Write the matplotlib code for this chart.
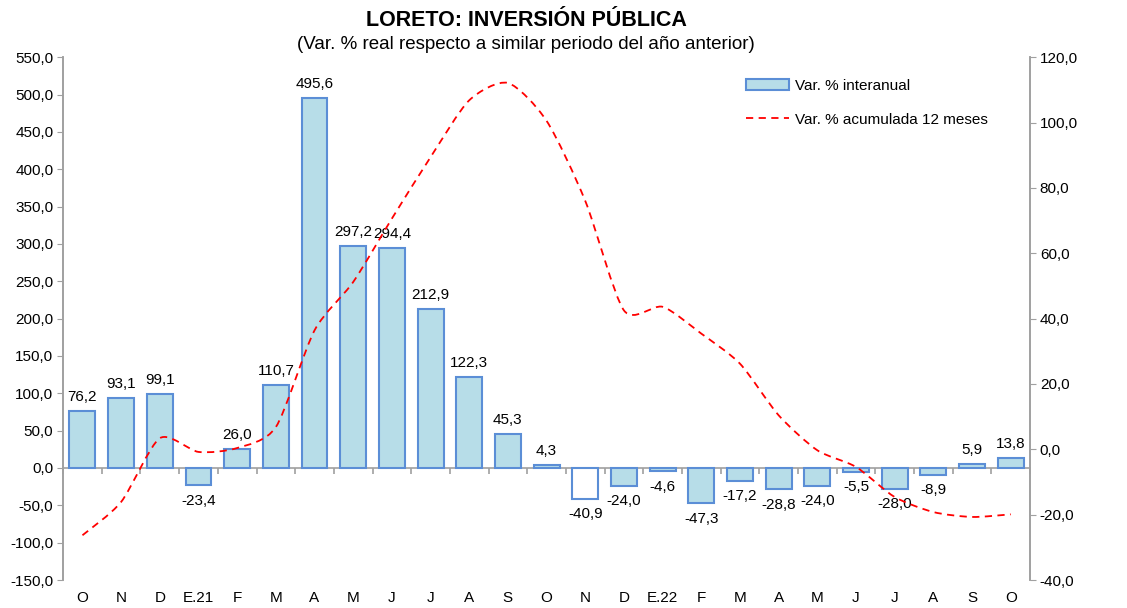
import numpy as np
import matplotlib.pyplot as plt
from matplotlib.path import Path
from matplotlib.patches import PathPatch
from matplotlib.lines import Line2D
from matplotlib.ticker import FuncFormatter, MultipleLocator

plt.rcParams['font.family'] = ['Liberation Sans', 'DejaVu Sans']

months = ["O", "N", "D", "E.21", "F", "M", "A", "M", "J", "J", "A", "S",
          "O", "N", "D", "E.22", "F", "M", "A", "M", "J", "J", "A", "S", "O"]
var_interanual = [76.2, 93.1, 99.1, -23.4, 26.0, 110.7, 495.6, 297.2, 294.4, 212.9, 122.3, 45.3,
                  4.3, -40.9, -24.0, -4.6, -47.3, -17.2, -28.8, -24.0, -5.5, -28.0, -8.9, 5.9, 13.8]
var_acum_12m = [-26.3, -16.1, 3.4, -0.8, 0.4, 6.8, 36.4, 51.2, 70.6, 89.4, 106.8, 112.1,
                100.5, 76.0, 42.5, 43.6, 35.4, 26.2, 10.4, -0.3, -5.4, -14.6, -19.2, -20.7, -19.9]


def coma(v, pos=None):
    return f"{v:.1f}".replace(".", ",")


def smooth_path(xs, ys, k=8):
    # Excel-like smoothed line: bezier curves through every point
    pts = np.column_stack([xs, ys]).astype(float)
    n = len(pts)
    verts = [pts[0]]
    codes = [Path.MOVETO]
    for i in range(n - 1):
        p0 = pts[max(i - 1, 0)]
        p1 = pts[i]
        p2 = pts[i + 1]
        p3 = pts[min(i + 2, n - 1)]
        c1 = p1 + (p2 - p0) / k
        c2 = p2 - (p3 - p1) / k
        verts += [c1, c2, p2]
        codes += [Path.CURVE4] * 3
    return Path(verts, codes)


fig = plt.figure(figsize=(11.27, 6.08), dpi=100)
ax = fig.add_axes([0.056, 0.046, 0.858, 0.860])
ax2 = ax.twinx()

x = np.arange(len(months))
fill = "#B7DDE8"
edge = "#5B8ED6"
facecolors = [fill] * len(months)
facecolors[13] = "white"  # the one bar Excel drew empty

bars = ax.bar(x, var_interanual, width=0.67, color=facecolors, edgecolor=edge,
              linewidth=1.5, zorder=2)
for xi, v in zip(x, var_interanual):
    if v >= 0:
        ax.annotate(coma(v), (xi, v), xytext=(0, 5), textcoords="offset points",
                    ha="center", va="bottom", fontsize=11)
    else:
        ax.annotate(coma(v), (xi, v), xytext=(0, -6), textcoords="offset points",
                    ha="center", va="top", fontsize=11)

red_style = dict(color="red", linestyle=(0, (4, 3)), linewidth=1.3)
ax2.add_patch(PathPatch(smooth_path(x, var_acum_12m), facecolor="none",
                        edgecolor="red", linestyle=(0, (4, 3)), linewidth=1.3, zorder=3))
line = Line2D([], [], **red_style)

ax.set_xlim(-0.5, len(months) - 0.5)
ax.set_ylim(-150, 550)
ax.yaxis.set_major_locator(MultipleLocator(50))
ax.yaxis.set_major_formatter(FuncFormatter(coma))
ax2.set_ylim(-40, 120)
ax2.yaxis.set_major_locator(MultipleLocator(20))
ax2.yaxis.set_major_formatter(FuncFormatter(coma))

ax.set_xticks(x)
ax.set_xticklabels(months, fontsize=11)
ax.tick_params(axis="x", length=0, pad=8)
ax.tick_params(axis="y", labelsize=11, length=4, color="#A0A0A0", pad=3)
ax2.tick_params(axis="y", labelsize=11, length=4, color="#A0A0A0", pad=3)

for a in (ax, ax2):
    a.spines["top"].set_visible(False)
    a.spines["bottom"].set_visible(False)
    a.spines["left"].set_color("#A0A0A0")
    a.spines["right"].set_color("#A0A0A0")
    a.spines["left"].set_linewidth(1.2)
    a.spines["right"].set_linewidth(1.2)

# zero line with category boundary ticks
zero = ax.secondary_xaxis(150 / 700)
zero.set_xticks(np.arange(len(months) + 1) - 0.5)
zero.set_xticklabels([])
zero.tick_params(length=4, color="#A0A0A0", width=1.2)
zero.spines["bottom"].set_color("#A0A0A0")
zero.spines["bottom"].set_linewidth(1.2)

ax.legend([bars, line], ["Var. % interanual", "Var. % acumulada 12 meses"],
          loc="upper left", bbox_to_anchor=(0.692, 0.985), frameon=False,
          fontsize=11, labelspacing=1.3, handlelength=2.8, handletextpad=0.4)

fig.text(0.467, 0.967, "LORETO: INVERSIÓN PÚBLICA", ha="center", va="center",
         fontsize=15.5, fontweight="bold")
fig.text(0.467, 0.926, "(Var. % real respecto a similar periodo del año anterior)",
         ha="center", va="center", fontsize=13.5)

fig.savefig("out.png", dpi=100)
